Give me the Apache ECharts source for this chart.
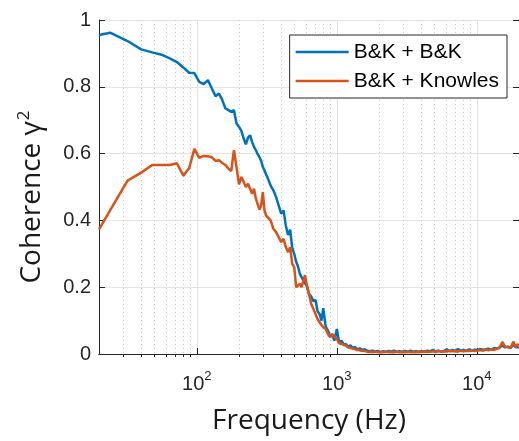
<!DOCTYPE html>
<html>
<head>
<meta charset="utf-8">
<style>
  html, body { margin: 0; padding: 0; background: #fff; }
  #chart { width: 519px; height: 441px; }
</style>
<script src="https://cdn.jsdelivr.net/npm/echarts@6/dist/echarts.min.js"></script>
</head>
<body>
<div id="chart"></div>
<script>
// frequency bins (Hz), shared by both curves
const freq = [20, 24, 32, 40, 48, 56, 64, 72, 80, 88, 96, 104, 112, 120, 128, 136, 144, 152, 160, 168,
  176, 184, 192, 200, 208, 216, 224, 232, 240, 248, 256, 264, 272, 280, 288, 296,
  304, 312, 320, 336, 352, 368, 384, 400, 416, 432, 448, 464, 480, 496, 512, 528, 544, 560, 576, 592, 608,
  632, 656, 680, 704, 728, 752, 776, 800, 832, 864, 896, 928, 960, 1000, 1040, 1080, 1120, 1160, 1200,
  1250, 1300, 1350, 1400,
  1460, 1520, 1580, 1650, 1720, 1800, 1880, 1960, 2050, 2150, 2250, 2350, 2450, 2560, 2680, 2800,
  2930, 3070, 3210, 3360, 3520, 3680, 3850, 4030, 4220, 4420, 4630, 4850, 5080, 5320, 5570, 5830,
  6100, 6390, 6690, 7000, 7330, 7670, 8030, 8410, 8800, 9210, 9640, 10100, 10600, 11100, 11600, 12100,
  12700, 13300, 13900, 14500, 15200, 15900, 16600, 17400, 18200, 19000, 19600, 20000]

// B&K + B&K
const cohBK = [0.955, 0.962, 0.937, 0.912, 0.903, 0.896, 0.885, 0.874, 0.858, 0.842, 0.841, 0.815, 0.808, 0.82, 0.795, 0.772, 0.78, 0.76, 0.735, 0.73,
  0.725, 0.73, 0.69, 0.68, 0.668, 0.645, 0.628, 0.648, 0.655, 0.635, 0.62, 0.61, 0.598, 0.59, 0.578, 0.56,
  0.55, 0.538, 0.528, 0.505, 0.49, 0.47, 0.445, 0.42, 0.43, 0.385, 0.356, 0.372, 0.318, 0.30, 0.276, 0.262, 0.24, 0.23, 0.22, 0.212, 0.205,
  0.18, 0.172, 0.158, 0.162, 0.128, 0.12, 0.10, 0.137, 0.082, 0.07, 0.052, 0.06, 0.04, 0.075, 0.032, 0.04, 0.028, 0.03, 0.022,
  0.026, 0.018, 0.021, 0.014,
  0.017, 0.012, 0.014, 0.01, 0.008, 0.01, 0.007, 0.009, 0.006, 0.008, 0.006, 0.009, 0.007, 0.01, 0.006, 0.008,
  0.007, 0.009, 0.006, 0.01, 0.007, 0.008, 0.006, 0.009, 0.007, 0.01, 0.008, 0.012, 0.008, 0.01, 0.007, 0.009,
  0.014, 0.008, 0.012, 0.009, 0.015, 0.01, 0.012, 0.009, 0.014, 0.01, 0.013, 0.012, 0.015, 0.012, 0.014, 0.016,
  0.013, 0.018, 0.016, 0.02, 0.025, 0.02, 0.022, 0.018, 0.028, 0.02, 0.024, 0.02]

// B&K + Knowles
const cohKn = [0.373, 0.43, 0.519, 0.543, 0.566, 0.566, 0.566, 0.571, 0.534, 0.556, 0.614, 0.587, 0.593, 0.592, 0.589, 0.578, 0.58, 0.572, 0.566, 0.555,
  0.548, 0.61, 0.56, 0.508, 0.53, 0.515, 0.50, 0.51, 0.495, 0.48, 0.495, 0.465, 0.47, 0.432, 0.445, 0.485,
  0.43, 0.415, 0.42, 0.40, 0.375, 0.365, 0.35, 0.335, 0.345, 0.32, 0.305, 0.32, 0.27, 0.26, 0.20, 0.205, 0.21, 0.20, 0.205, 0.236, 0.21,
  0.18, 0.15, 0.135, 0.12, 0.105, 0.095, 0.087, 0.08, 0.075, 0.06, 0.05, 0.058, 0.055, 0.045, 0.032, 0.03, 0.027, 0.025, 0.02,
  0.018, 0.016, 0.015, 0.012,
  0.011, 0.009, 0.01, 0.006, 0.007, 0.005, 0.007, 0.005, 0.006, 0.005, 0.007, 0.005, 0.006, 0.005, 0.007, 0.005,
  0.006, 0.005, 0.007, 0.005, 0.006, 0.005, 0.007, 0.006, 0.008, 0.006, 0.007, 0.008, 0.006, 0.009, 0.007, 0.008,
  0.007, 0.01, 0.008, 0.009, 0.007, 0.01, 0.008, 0.01, 0.009, 0.011, 0.009, 0.01, 0.012, 0.01, 0.013, 0.011,
  0.014, 0.012, 0.016, 0.018, 0.036, 0.022, 0.02, 0.018, 0.037, 0.02, 0.03, 0.022]

const minorTicks = [30, 40, 50, 60, 70, 80, 90, 200, 300, 400, 500, 600, 700, 800, 900,
  2000, 3000, 4000, 5000, 6000, 7000, 8000, 9000]
const yTicks = [0, 0.2, 0.4, 0.6, 0.8, 1]

const axisColor = '#262626'
const gridColor = '#e3e3e3'
const tickFont = 'Liberation Sans'
const titleFont = 'Open Sans'

const chart = echarts.init(document.getElementById('chart'))

function pair (vals) {
  return freq.map((f, i) => [f, vals[i]])
}

chart.setOption({
  animation: false,
  backgroundColor: '#fff',
  grid: { left: 99, right: 0, top: 20, bottom: 87, containLabel: false },
  legend: {
    top: 35,
    right: 12,
    orient: 'vertical',
    icon: 'rect',
    itemWidth: 53,
    itemHeight: 2.5,
    itemGap: 5,
    padding: [5, 8, 5, 6],
    backgroundColor: '#fff',
    borderColor: axisColor,
    borderWidth: 1,
    borderRadius: 0,
    selectedMode: false,
    textStyle: { fontFamily: tickFont, fontSize: 21, color: '#000', lineHeight: 24 },
    data: ['B&K + B&K', 'B&K + Knowles']
  },
  xAxis: [{
    type: 'log',
    logBase: 10,
    min: 20,
    max: 20000,
    position: 'bottom',
    name: 'Frequency (Hz)',
    nameLocation: 'middle',
    nameGap: 53,
    nameTextStyle: { fontFamily: titleFont, fontSize: 28, color: '#1a1a1a' },
    axisLine: { show: true, lineStyle: { color: axisColor, width: 1 } },
    axisTick: { show: true, inside: true, length: 6, lineStyle: { color: axisColor } },
    splitLine: { show: true, lineStyle: { color: gridColor, width: 1 } },
    axisLabel: {
      margin: 16,
      showMinLabel: false,
      showMaxLabel: false,
      formatter: function (v) {
        const e = Math.log10(v)
        if (Math.abs(e - Math.round(e)) > 1e-6) return ''
        return '{b|10}{s|' + Math.round(e) + '}'
      },
      rich: {
        b: { fontFamily: tickFont, fontSize: 20, color: axisColor, verticalAlign: 'bottom' },
        s: { fontFamily: tickFont, fontSize: 13, color: axisColor, verticalAlign: 'bottom', padding: [0, 0, 11, 0] }
      }
    }
  }, {
    type: 'log',
    logBase: 10,
    min: 20,
    max: 20000,
    position: 'top',
    axisLine: { show: true, lineStyle: { color: axisColor, width: 1 } },
    axisTick: { show: true, inside: true, length: 3, customValues: minorTicks, lineStyle: { color: axisColor } },
    splitLine: { show: true, lineStyle: { color: '#c8c8c8', width: 1, type: [1, 3] } },
    axisLabel: { show: false }
  }],
  yAxis: [{
    type: 'value',
    min: 0,
    max: 1,
    interval: 0.2,
    position: 'left',
    name: '{a|Coherence }{g|γ}{s|2}',
    nameLocation: 'middle',
    nameGap: 53,
    nameTextStyle: {
      padding: [0, 20, 0, 0],
      rich: {
        a: { fontFamily: titleFont, fontSize: 28, color: '#1a1a1a', verticalAlign: 'bottom' },
        g: { fontFamily: titleFont, fontSize: 28, color: '#1a1a1a', verticalAlign: 'bottom' },
        s: { fontFamily: titleFont, fontSize: 17, color: '#1a1a1a', verticalAlign: 'bottom', padding: [0, 0, 13, 1] }
      }
    },
    axisLine: { show: true, lineStyle: { color: axisColor, width: 1 } },
    axisTick: { show: true, inside: true, length: 6, lineStyle: { color: axisColor } },
    splitLine: { show: true, lineStyle: { color: gridColor, width: 1 } },
    axisLabel: {
      margin: 8,
      fontFamily: tickFont,
      fontSize: 20,
      color: axisColor,
      customValues: yTicks,
      formatter: function (v) { return String(+v.toFixed(1)) }
    }
  }, {
    type: 'value',
    min: 0,
    max: 1,
    interval: 0.2,
    position: 'right',
    axisLine: { show: true, lineStyle: { color: axisColor, width: 1 } },
    axisTick: { show: true, inside: true, length: 6, lineStyle: { color: axisColor } },
    splitLine: { show: false },
    axisLabel: { show: false }
  }],
  series: [{
    name: 'B&K + B&K',
    type: 'line',
    data: pair(cohBK),
    showSymbol: false,
    symbol: 'none',
    color: '#0072BD',
    lineStyle: { width: 2.5, color: '#0072BD' },
    z: 3
  }, {
    name: 'B&K + Knowles',
    type: 'line',
    data: pair(cohKn),
    showSymbol: false,
    symbol: 'none',
    color: '#D95319',
    lineStyle: { width: 2.5, color: '#D95319' },
    z: 4
  }]
})

window.onresize = function () {
  chart.resize()
}
</script>
</body>
</html>
